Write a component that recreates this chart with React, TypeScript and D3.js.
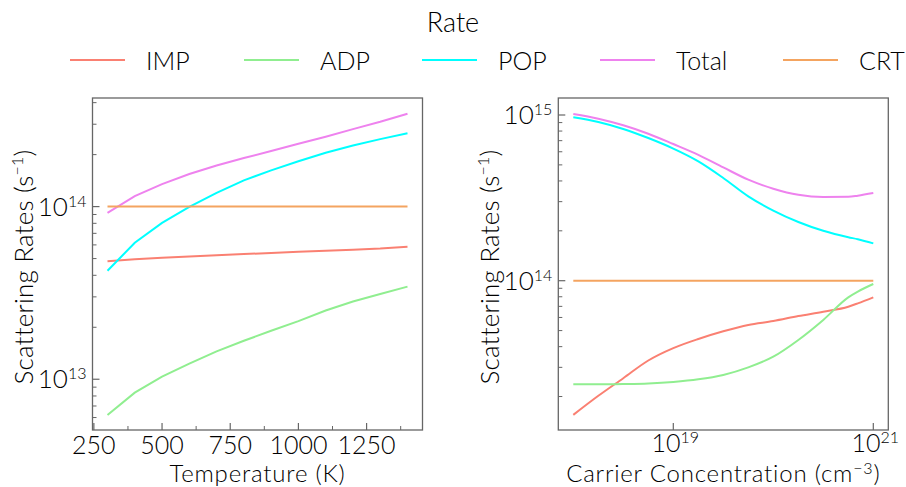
import React from "react";
import * as d3 from "d3";

// ---------- data ----------
const seriesNames = ["IMP", "ADP", "POP", "Total", "CRT"];
const seriesColors = ["#fa8072", "#90ee90", "#00ffff", "#ee82ee", "#f4a460"];

// Left panel: temperature (K)
const temperatures = [300, 400, 500, 600, 700, 800, 900, 1000, 1100, 1200, 1300, 1400];
const tIMP = [4.83e13, 4.95e13, 5.05e13, 5.14e13, 5.23e13, 5.31e13, 5.39e13, 5.47e13, 5.55e13, 5.63e13, 5.72e13, 5.86e13];
const tADP = [6.2e12, 8.36e12, 1.035e13, 1.23e13, 1.45e13, 1.67e13, 1.91e13, 2.17e13, 2.5e13, 2.82e13, 3.12e13, 3.44e13];
const tPOP = [4.25e13, 6.17e13, 8.05e13, 9.96e13, 1.2e14, 1.42e14, 1.62e14, 1.83e14, 2.05e14, 2.26e14, 2.46e14, 2.66e14];
const tTotal = [9.2e13, 1.15e14, 1.35e14, 1.545e14, 1.73e14, 1.91e14, 2.1e14, 2.31e14, 2.54e14, 2.81e14, 3.1e14, 3.45e14];
const tCRT = [1e14, 1e14, 1e14, 1e14, 1e14, 1e14, 1e14, 1e14, 1e14, 1e14, 1e14, 1e14];

// Right panel: carrier concentration (cm^-3)
const concentrations = [1e18, 1.78e18, 3.16e18, 5.62e18, 1e19, 1.78e19, 3.16e19, 5.62e19, 1e20, 1.78e20, 3.16e20, 5.62e20, 7e20, 1e21];
const cIMP = [1.55e13, 2.02e13, 2.58e13, 3.3e13, 3.92e13, 4.45e13, 4.95e13, 5.41e13, 5.71e13, 6.12e13, 6.5e13, 6.97e13, 7.3e13, 7.94e13];
const cADP = [2.37e13, 2.37e13, 2.38e13, 2.4e13, 2.45e13, 2.54e13, 2.7e13, 3.0e13, 3.48e13, 4.39e13, 5.8e13, 7.94e13, 8.6e13, 9.55e13];
const cPOP = [9.7e14, 9.08e14, 8.24e14, 7.26e14, 6.27e14, 5.25e14, 4.17e14, 3.23e14, 2.65e14, 2.26e14, 2.0e14, 1.83e14, 1.78e14, 1.68e14];
const cTotal = [1.014e15, 9.5e14, 8.67e14, 7.71e14, 6.68e14, 5.75e14, 4.83e14, 4.07e14, 3.59e14, 3.3e14, 3.2e14, 3.21e14, 3.26e14, 3.38e14];
const cCRT = concentrations.map(() => 1e14);

// ticks
const tempTicks = [250, 500, 750, 1000, 1250];
const tempMinorTicks = [375, 625, 875, 1125, 1375];
const concTicks = [1e19, 1e21];

const FONT = "Lato, 'Open Sans', sans-serif";
const FW = 300;
const FS = 26;
const XFS = 24;
const SUP = 16;
const INK = "#000";

type Series = { name: string; color: string; values: number[] };

function supLabel(exp: number, x: number, y: number, anchor: string, key: string, size: number) {
  return (
    <text key={key} x={x} y={y} textAnchor={anchor} fontSize={size} fontWeight={FW} fill={INK} fontFamily={FONT}>
      10
      <tspan fontSize={SUP} dy={-9}>{exp}</tspan>
    </text>
  );
}

function Panel(props: {
  left: number; right: number; top: number; bottom: number;
  xs: number[]; series: Series[]; xLog: boolean; xDomain: [number, number];
  yDomain: [number, number]; xLabel: React.ReactNode; smooth: boolean; yLabelX: number;
}) {
  const { left, right, top, bottom, xs, series, xLog, xDomain, yDomain, smooth } = props;
  const x = xLog
    ? d3.scaleLog().domain(xDomain).range([left, right])
    : d3.scaleLinear().domain(xDomain).range([left, right]);
  const y = d3.scaleLog().domain(yDomain).range([bottom, top]);
  const line = d3
    .line<number>()
    .x((_, i) => x(xs[i]))
    .y((d) => y(d))
    .curve(smooth ? d3.curveMonotoneX : d3.curveLinear);

  const decades: number[] = [];
  for (let e = Math.floor(Math.log10(yDomain[0])); e <= Math.ceil(Math.log10(yDomain[1])); e++) decades.push(e);
  const majors = decades.map((e) => Math.pow(10, e)).filter((v) => v >= yDomain[0] && v <= yDomain[1]);
  const minors: number[] = [];
  decades.forEach((e) => {
    for (let m = 2; m <= 9; m++) {
      const v = m * Math.pow(10, e);
      if (v >= yDomain[0] && v <= yDomain[1]) minors.push(v);
    }
  });
  const axisColor = "#666";
  const cx = (left + right) / 2;

  return (
    <g>
      {series.map((s) => (
        <path key={s.name} d={line(s.values) || ""} fill="none" stroke={s.color} strokeWidth={2} />
      ))}
      <rect x={left} y={top} width={right - left} height={bottom - top} fill="none" stroke={axisColor} strokeWidth={1.3} />
      {majors.map((v) => (
        <line key={"ym" + v} x1={left} x2={left + 7} y1={y(v)} y2={y(v)} stroke={axisColor} strokeWidth={1.2} />
      ))}
      {minors.map((v) => (
        <line key={"yn" + v} x1={left} x2={left + 4} y1={y(v)} y2={y(v)} stroke={axisColor} strokeWidth={1} />
      ))}
      {majors.map((v) => supLabel(Math.round(Math.log10(v)), left - 6, y(v) + 9, "end", "yl" + v, FS))}
      {!xLog &&
        tempTicks.map((t) => (
          <g key={"xt" + t}>
            <line x1={x(t)} x2={x(t)} y1={bottom} y2={bottom - 7} stroke={axisColor} strokeWidth={1.2} />
            <text x={x(t)} y={bottom + 24} textAnchor="middle" fontSize={25} fontWeight={FW} fill={INK} fontFamily={FONT}>
              {t}
            </text>
          </g>
        ))}
      {!xLog &&
        tempMinorTicks.map((t) => (
          <line key={"xn" + t} x1={x(t)} x2={x(t)} y1={bottom} y2={bottom - 4} stroke={axisColor} strokeWidth={1} />
        ))}
      {xLog &&
        concTicks.map((t) => (
          <g key={"xt" + t}>
            <line x1={x(t)} x2={x(t)} y1={bottom} y2={bottom - 7} stroke={axisColor} strokeWidth={1.2} />
            {supLabel(Math.round(Math.log10(t)), x(t) + 2, bottom + 22, "middle", "xl" + t, 25)}
          </g>
        ))}
      <text x={cx} y={482} textAnchor="middle" fontSize={XFS} fontWeight={FW} fill={INK} fontFamily={FONT} letterSpacing={0.8}>
        {props.xLabel}
      </text>
      <text
        transform={`translate(${props.yLabelX},${(top + bottom) / 2 + 3}) rotate(-90)`}
        textAnchor="middle"
        fontSize={FS}
        fontWeight={FW}
        fill={INK}
        fontFamily={FONT}
        letterSpacing={0.2}
      >
        Scattering Rates (s
        <tspan fontSize={SUP} dy={-10}>−1</tspan>
        <tspan dy={10}>)</tspan>
      </text>
    </g>
  );
}

const legendX = [70, 244, 422, 600, 783];

export default function App() {
  const tSeries: Series[] = [tIMP, tADP, tPOP, tTotal, tCRT].map((v, i) => ({
    name: seriesNames[i], color: seriesColors[i], values: v,
  }));
  const cSeries: Series[] = [cIMP, cADP, cPOP, cTotal, cCRT].map((v, i) => ({
    name: seriesNames[i], color: seriesColors[i], values: v,
  }));
  return (
    <svg width={906} height={487} style={{ position: "absolute", left: 0, top: 0, background: "#fff" }}>
      <text x={453} y={32} textAnchor="middle" fontSize={27} fontWeight={FW} fill={INK} fontFamily={FONT}>Rate</text>
      {seriesNames.map((n, i) => (
        <g key={n}>
          <line x1={legendX[i]} x2={legendX[i] + 55} y1={60} y2={60} stroke={seriesColors[i]} strokeWidth={2} />
          <text x={legendX[i] + 76} y={70} fontSize={25} fontWeight={FW} fill={INK} fontFamily={FONT}>{n}</text>
        </g>
      ))}
      <Panel
        left={92.5} right={422.5} top={98} bottom={430}
        xs={temperatures} series={tSeries} xLog={false}
        xDomain={[245, 1455]} yDomain={[Math.pow(10, 12.706), Math.pow(10, 14.629)]}
        xLabel="Temperature (K)" smooth={false} yLabelX={33}
      />
      <Panel
        left={558.3} right={888.3} top={98} bottom={430}
        xs={concentrations} series={cSeries} xLog={true}
        xDomain={[Math.pow(10, 17.85), Math.pow(10, 21.15)]} yDomain={[Math.pow(10, 13.099), Math.pow(10, 15.1026)]}
        xLabel={<>Carrier Concentration (cm<tspan fontSize={SUP} dy={-8}>−3</tspan><tspan dy={8}>)</tspan></>}
        smooth={true} yLabelX={499}
      />
    </svg>
  );
}
